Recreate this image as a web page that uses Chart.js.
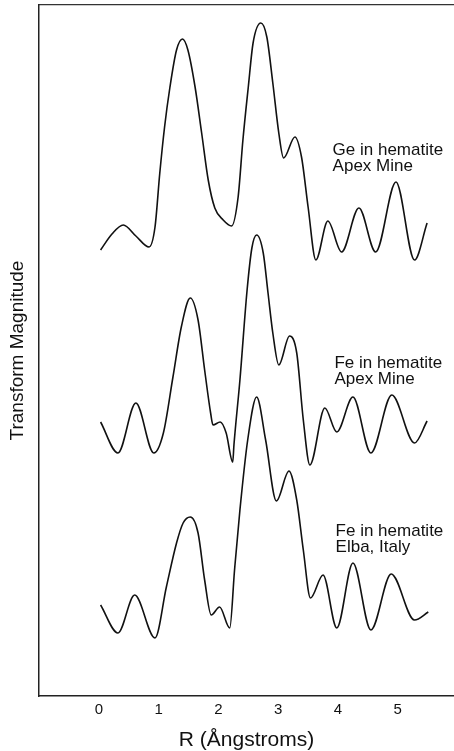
<!DOCTYPE html>
<html>
<head>
<meta charset="utf-8">
<script src="https://cdn.jsdelivr.net/npm/chart.js@4/dist/chart.umd.min.js"></script>
<style>
  html, body { margin: 0; padding: 0; background: #fff; }
  #wrap { width: 454px; height: 751px; }
</style>
</head>
<body>
<div id="wrap"><canvas id="exafsChart" width="454" height="751"></canvas></div>
<script>
// Valores (R en Angstroms, magnitud en unidades arbitrarias)
const xTicks = [0, 1, 2, 3, 4, 5];

const rGe = [0.03, 0.22, 0.41, 0.62, 0.84, 0.94, 1.02, 1.10, 1.19, 1.30, 1.40, 1.49, 1.61, 1.72, 1.83, 1.94, 2.08, 2.22, 2.33, 2.41, 2.50, 2.58, 2.71, 2.81, 2.91, 3.01, 3.09, 3.28, 3.39, 3.50, 3.63, 3.83, 4.06, 4.35, 4.63, 4.97, 5.28, 5.49];
const magGe = [44.6, 46.2, 47.1, 46.0, 44.9, 46.9, 52.3, 56.9, 60.9, 64.6, 65.7, 64.6, 60.9, 56.3, 51.6, 48.8, 47.6, 47.0, 49.9, 55.6, 60.9, 65.3, 67.3, 65.9, 61.3, 56.3, 53.8, 55.9, 53.9, 48.9, 43.6, 47.5, 44.4, 48.8, 44.4, 51.4, 43.6, 47.3];

const rFeApex = [0.03, 0.32, 0.62, 0.92, 1.08, 1.24, 1.38, 1.53, 1.66, 1.77, 1.87, 1.91, 2.03, 2.13, 2.24, 2.26, 2.36, 2.48, 2.56, 2.64, 2.75, 2.83, 2.91, 3.01, 3.19, 3.31, 3.42, 3.53, 3.78, 3.98, 4.25, 4.55, 4.90, 5.28, 5.49];
const magFeApex = [27.4, 24.3, 29.3, 24.3, 26.3, 31.9, 36.9, 39.8, 37.6, 32.6, 28.3, 27.1, 27.4, 26.3, 23.4, 25.1, 31.6, 40.6, 44.8, 46.1, 44.3, 40.3, 36.3, 33.1, 36.0, 34.3, 27.6, 23.1, 28.8, 26.4, 29.9, 24.3, 30.1, 25.3, 27.5];

const rFeElba = [0.03, 0.32, 0.60, 0.94, 1.13, 1.30, 1.41, 1.53, 1.66, 1.77, 1.88, 2.02, 2.19, 2.27, 2.36, 2.49, 2.64, 2.79, 2.97, 3.18, 3.31, 3.42, 3.54, 3.75, 3.98, 4.25, 4.55, 4.89, 5.28, 5.51];
const magFeElba = [9.1, 6.3, 10.1, 5.8, 10.9, 15.3, 17.3, 17.9, 16.3, 11.6, 8.1, 8.9, 6.8, 12.6, 18.6, 25.6, 29.9, 25.6, 19.5, 22.5, 19.6, 14.6, 9.8, 12.1, 6.8, 13.3, 6.6, 12.2, 7.6, 8.4];

const curveLabels = [
  ["Ge in hematite", "Apex Mine"],
  ["Fe in hematite", "Apex Mine"],
  ["Fe in hematite", "Elba, Italy"]
];

// Juntar pares x/y para cada curva
const toPoints = (xs, ys) => xs.map((x, i) => ({ x: x, y: ys[i] }));

const lineStyle = {
  borderColor: "#111",
  borderWidth: 1.6,
  pointRadius: 0,
  fill: false,
  cubicInterpolationMode: "monotone"
};

// Etiquetas de texto al lado de cada curva
const curveLabelPlugin = {
  id: "curveLabels",
  afterDatasetsDraw(chart) {
    const { ctx, scales: { x, y } } = chart;
    const anchors = [[3.91, 54.6], [3.94, 33.3], [3.96, 16.5]];
    ctx.save();
    ctx.fillStyle = "#111";
    ctx.font = "17px 'Liberation Sans', Arial, sans-serif";
    ctx.textBaseline = "middle";
    ctx.textAlign = "left";
    curveLabels.forEach((lines, i) => {
      const px = x.getPixelForValue(anchors[i][0]);
      const py = y.getPixelForValue(anchors[i][1]);
      lines.forEach((t, j) => ctx.fillText(t, px, py + j * 16));
    });
    ctx.restore();
  }
};

const chart = new Chart(document.getElementById("exafsChart"), {
  type: "line",
  data: {
    datasets: [
      { label: "Ge in hematite, Apex Mine", data: toPoints(rGe, magGe), ...lineStyle },
      { label: "Fe in hematite, Apex Mine", data: toPoints(rFeApex, magFeApex), ...lineStyle },
      { label: "Fe in hematite, Elba, Italy", data: toPoints(rFeElba, magFeElba), ...lineStyle }
    ]
  },
  options: {
    responsive: false,
    animation: false,
    devicePixelRatio: 1,
    layout: { padding: 0 },
    plugins: { legend: { display: false }, tooltip: { enabled: false } },
    scales: {
      x: {
        type: "linear",
        min: -1,
        max: 5.94,
        grid: { display: false, drawTicks: false },
        border: { display: true, color: "#222", width: 1.5 },
        afterBuildTicks: (scale) => { scale.ticks = xTicks.map((v) => ({ value: v })); },
        afterFit: (scale) => { scale.height = 55; },
        ticks: {
          color: "#111",
          padding: 5,
          maxRotation: 0,
          font: { family: "'Liberation Sans', Arial, sans-serif", size: 15 }
        },
        title: {
          display: true,
          text: "R (Ångstroms)",
          color: "#111",
          padding: 0,
          font: { family: "'Liberation Sans', Arial, sans-serif", size: 21, lineHeight: 1 }
        }
      },
      xTop: {
        type: "linear",
        position: "top",
        min: -1,
        max: 5.94,
        grid: { display: false, drawTicks: false },
        border: { display: true, color: "#333", width: 1.2 },
        ticks: { display: false },
        afterFit: (scale) => { scale.height = 5; }
      },
      y: {
        min: 0,
        max: 69.1,
        grid: { display: false, drawTicks: false },
        border: { display: true, color: "#222", width: 1.5 },
        ticks: { display: false },
        afterFit: (scale) => { scale.width = 39; },
        title: {
          display: true,
          text: "Transform Magnitude",
          color: "#111",
          padding: { top: 6, bottom: 0 },
          font: { family: "'Liberation Sans', Arial, sans-serif", size: 19 }
        }
      }
    }
  },
  plugins: [curveLabelPlugin]
});
</script>
</body>
</html>
